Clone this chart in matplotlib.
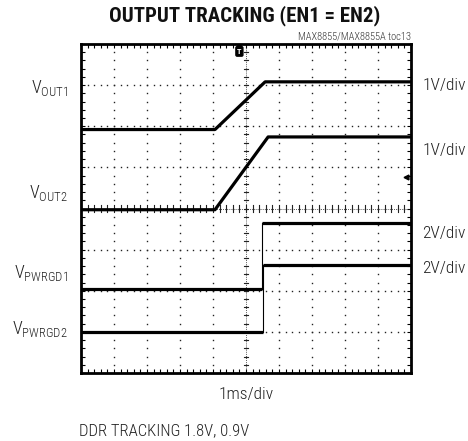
import numpy as np
import matplotlib.pyplot as plt

# Scope traces, in divisions (x: 0..10, y: 0..8)
vout1_t = [0.0, 4.06, 5.58, 10.0]
vout1_v = [5.92, 5.92, 7.08, 7.08]
vout2_t = [0.0, 4.06, 5.67, 10.0]
vout2_v = [3.97, 3.97, 5.74, 5.74]
pg1_t = [0.0, 5.48, 5.48, 10.0]
pg1_v = [2.04, 2.04, 3.65, 3.65]
pg2_t = [0.0, 5.52, 5.52, 10.0]
pg2_v = [1.00, 1.00, 2.63, 2.63]

left_labels = ['V$_{\\mathregular{OUT1}}$', 'V$_{\\mathregular{OUT2}}$',
               'V$_{\\mathregular{PWRGD1}}$', 'V$_{\\mathregular{PWRGD2}}$']
left_label_y = [6.93, 4.37, 2.43, 1.05]
right_labels = ['1V/div', '1V/div', '2V/div', '2V/div']
right_label_y = [7.0, 5.4, 3.4, 2.55]

plt.rcParams['font.family'] = ['Roboto Condensed', 'DejaVu Sans']
plt.rcParams['font.weight'] = 300
plt.rcParams['mathtext.fontset'] = 'custom'
plt.rcParams['mathtext.rm'] = 'Roboto Condensed:light'
plt.rcParams['mathtext.it'] = 'Roboto Condensed:light'

fig = plt.figure(figsize=(4.68, 4.41), dpi=100)
ax = fig.add_axes([81 / 468, 1 - 373 / 441, 330 / 468, 329 / 441])
ax.set_xlim(0, 10)
ax.set_ylim(0, 8)

# dotted graticule
fine_x = np.arange(0, 10.01, 0.2)
fine_y = np.arange(0, 8.01, 0.2)
for gx in range(1, 10):
    ax.plot(np.full_like(fine_y, gx), fine_y, 's', color='#222222', ms=1.0, mew=0)
for gy in range(1, 8):
    ax.plot(fine_x, np.full_like(fine_x, gy), 's', color='#222222', ms=1.0, mew=0)

# center cross with minor ticks
ax.axvline(5, color='#222222', lw=0.6, ls=(0, (1, 1.5)))
ax.axhline(4, color='#222222', lw=0.6, ls=(0, (1, 1.5)))
for v in fine_y:
    ax.plot([4.93, 5.07], [v, v], color='#222222', lw=0.8)
for v in fine_x:
    ax.plot([v, v], [3.92, 4.08], color='#222222', lw=0.8)

# traces
tr = dict(color='black', lw=2.3, solid_capstyle='butt')
ax.plot(vout1_t, vout1_v, **tr)
ax.plot(vout2_t, vout2_v, **tr)
for t, v in [(pg1_t, pg1_v), (pg2_t, pg2_v)]:
    ax.plot(t[:2], v[:2], **tr)
    ax.plot(t[2:], v[2:], **tr)
    ax.plot(t[1:3], v[1:3], color='black', lw=0.8)

# trigger and level markers
ax.text(4.8, 7.82, 'T', color='white', fontsize=6, fontweight='bold', ha='center', va='center',
        bbox=dict(boxstyle='round,pad=0.15', fc='black', ec='black'))
ax.plot([4.8], [7.98], 'v', color='black', ms=4)
ax.plot([9.85], [4.77], '<', color='black', ms=3.5)

# frame and ticks
for s in ax.spines.values():
    s.set_linewidth(2.0)
ax.set_xticks(fine_x)
ax.set_yticks(fine_y)
ax.tick_params(which='both', direction='in', length=3, width=0.8, top=True, right=True,
               labelbottom=False, labelleft=False)

for lab, y in zip(left_labels, left_label_y):
    ax.text(-0.4, y, lab, ha='right', va='center', fontsize=13, color='#222222')
for lab, y in zip(right_labels, right_label_y):
    ax.text(10.35, y, lab, ha='left', va='center', fontsize=12.5, color='#222222')

fig.text(245 / 468, 1 - 16 / 441, 'OUTPUT TRACKING (EN1 = EN2)', ha='center', va='center',
         fontsize=15, fontweight='bold', color='#111111')
fig.text(411 / 468, 1 - 36 / 441, 'MAX8855/MAX8855A toc13', ha='right', va='center',
         fontsize=7.5, color='#333333')
fig.text(246 / 468, 1 - 395 / 441, '1ms/div', ha='center', va='center', fontsize=12.5,
         color='#222222')
fig.text(79 / 468, 1 - 431 / 441, 'DDR TRACKING 1.8V, 0.9V', ha='left', va='center',
         fontsize=12, color='#222222')

fig.savefig('out.png', dpi=100)
